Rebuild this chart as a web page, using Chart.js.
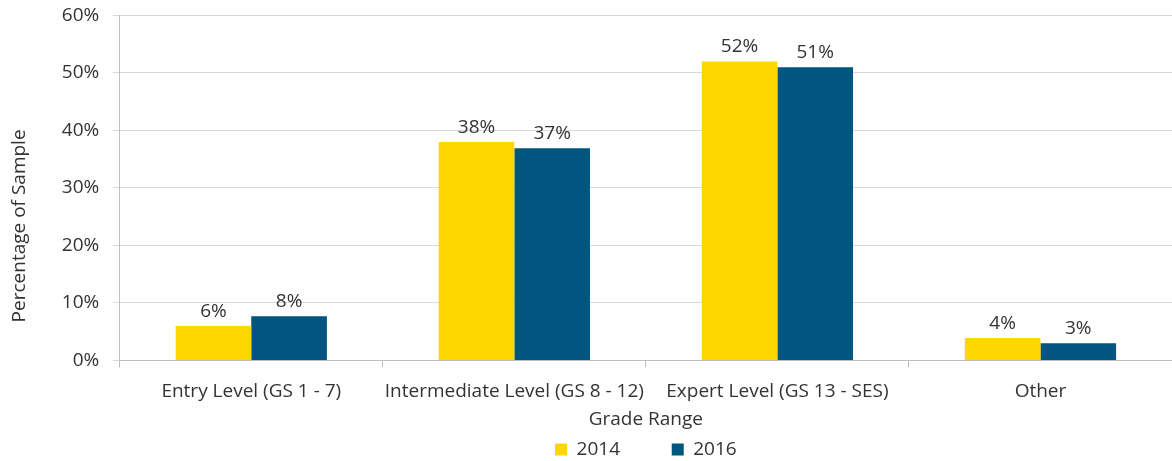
<!DOCTYPE html>
<html>
<head>
<meta charset="utf-8">
<script src="https://cdn.jsdelivr.net/npm/chart.js@4/dist/chart.umd.min.js"></script>
<style>
  html, body { margin: 0; padding: 0; background: #fff; }
  #wrap { width: 1172px; height: 461px; }
</style>
</head>
<body>
<div id="wrap"><canvas id="gradeChart"></canvas></div>
<script>
const categories = ['Entry Level (GS 1 - 7)', 'Intermediate Level (GS 8 - 12)', 'Expert Level (GS 13 - SES)', 'Other'];
const values2014 = [6, 38, 52, 3.9];
const values2016 = [7.7, 36.9, 51, 3];
const seriesNames = ['2014', '2016'];

const fontFamily = '"Open Sans", Lato, sans-serif';
const textColor = '#333333';

// value labels above each bar
const barLabels = {
    id: 'barLabels',
    afterDatasetsDraw(chart) {
        const ctx = chart.ctx;
        ctx.save();
        ctx.font = '19px ' + fontFamily;
        ctx.fillStyle = textColor;
        ctx.textAlign = 'center';
        ctx.textBaseline = 'alphabetic';
        chart.data.datasets.forEach(function (ds, i) {
            chart.getDatasetMeta(i).data.forEach(function (bar, j) {
                ctx.fillText(Math.round(ds.data[j]) + '%', bar.x, bar.y - 9);
            });
        });
        ctx.restore();
    }
};

Chart.defaults.font.family = fontFamily;
Chart.defaults.font.size = 19;
Chart.defaults.color = textColor;

const ctx = document.getElementById('gradeChart').getContext('2d');
const gradeChart = new Chart(ctx, {
    type: 'bar',
    data: {
        labels: categories,
        datasets: [{
            label: seriesNames[0],
            data: values2014,
            backgroundColor: '#FFD700'
        }, {
            label: seriesNames[1],
            data: values2016,
            backgroundColor: '#00567F'
        }]
    },
    options: {
        responsive: true,
        maintainAspectRatio: false,
        animation: false,
        layout: { padding: { top: 0, right: 0, left: 4, bottom: -8 } },
        datasets: {
            bar: { categoryPercentage: 0.575, barPercentage: 1.0 }
        },
        scales: {
            x: {
                grid: { offset: true, drawOnChartArea: false, drawTicks: true, tickLength: 7, color: '#bfbfbf' },
                border: { color: '#bfbfbf' },
                ticks: { padding: 13, maxRotation: 0, autoSkip: false },
                title: { display: true, text: 'Grade Range', padding: { top: -8, bottom: 0 } }
            },
            y: {
                min: 0,
                max: 60,
                ticks: {
                    stepSize: 10,
                    padding: 4,
                    // en space keeps the labels clear of the tick marks
                    callback: function (v) { return v + '%\u2002'; }
                },
                grid: { color: '#d9d9d9', tickLength: 7 },
                border: { color: '#bfbfbf' },
                title: {
                    display: true,
                    text: 'Percentage of Sample\u2003\u2003\u2003\u2003',
                    padding: { top: 4, bottom: 27 }
                }
            }
        },
        plugins: {
            legend: {
                position: 'bottom',
                fullSize: false,
                labels: {
                    boxWidth: 12,
                    boxHeight: 12,
                    padding: 9,
                    generateLabels: function (chart) {
                        const items = Chart.defaults.plugins.legend.labels.generateLabels(chart);
                        items[0].text = items[0].text + '\u2003\u2003\u2005';
                        return items;
                    }
                }
            },
            tooltip: { enabled: false }
        }
    },
    plugins: [barLabels]
});
</script>
</body>
</html>
